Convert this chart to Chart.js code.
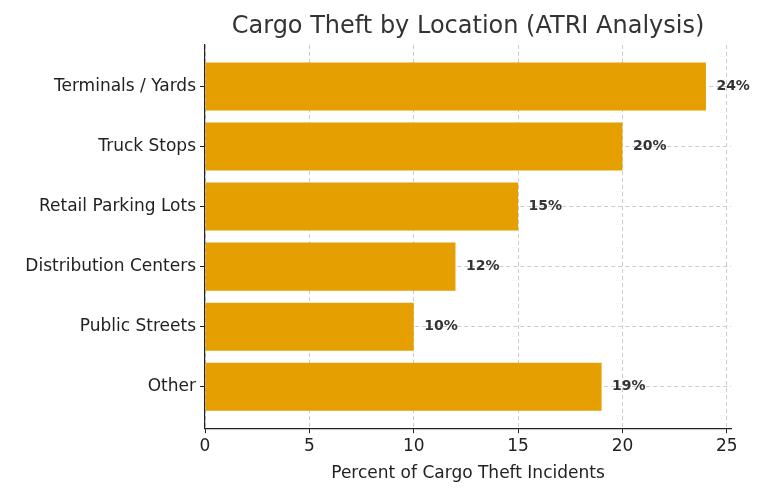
<!DOCTYPE html>
<html><head><meta charset="utf-8">
<script src="https://cdn.jsdelivr.net/npm/chart.js@4"></script>
<style>html,body{margin:0;padding:0;background:#fff}#w{width:768px;height:494px}</style>
</head><body><div id="w"><canvas id="c"></canvas></div>
<script>
const categories = ["Terminals / Yards","Truck Stops","Retail Parking Lots","Distribution Centers","Public Streets","Other"];
const values = [24,20,15,12,10,19];
const xTicks = [0,5,10,15,20,25];
const titleText = 'Cargo Theft by Location (ATRI Analysis)';
const F = "'DejaVu Sans', sans-serif";
const labelPlugin = {id:'lbl', afterDatasetsDraw(chart){
  const {ctx, chartArea, scales:{x,y}} = chart;
  ctx.save(); ctx.font = "bold 14px "+F; ctx.fillStyle="#333"; ctx.textBaseline="middle";
  values.forEach((v,i)=>{ ctx.fillText(v+"%", x.getPixelForValue(v+0.5), y.getPixelForValue(i)); });
  ctx.font = "24px "+F; ctx.fillStyle="#333"; ctx.textAlign="center";
  ctx.fillText(titleText, (chartArea.left+chartArea.right)/2, 27);
  ctx.restore();
}};
new Chart(document.getElementById('c'), {
  type:'bar',
  data:{datasets:[{data: values.map((v,i)=>({x:v,y:i})), backgroundColor:'#E69F00', barPercentage:0.8, categoryPercentage:1}]},
  options:{indexAxis:'y', responsive:true, maintainAspectRatio:false, animation:false,
    layout:{padding:{top:45,right:37,bottom:6,left:0}},
    plugins:{legend:{display:false}, tooltip:{enabled:false}, title:{display:false}},
    scales:{
      x:{type:'linear', min:0, max:25.2, position:'bottom',
        afterBuildTicks(s){ s.ticks = xTicks.map(v=>({value:v})); },
        ticks:{color:'#222', font:{family:F,size:17}, padding:3},
        grid:{color:'#ccc', drawTicks:true, tickColor:'#222', tickLength:5},
        border:{display:true, color:'#222', width:1.2, dash:[4,3]},
        title:{display:true, text:'Percent of Cargo Theft Incidents', color:'#222', font:{family:F,size:17}, padding:{top:4}}},
      y:{type:'linear', reverse:true, min:-0.69, max:5.69, offset:false,
        afterBuildTicks(s){ s.ticks = categories.map((c,i)=>({value:i})); },
        afterFit(s){ s.width = 205; },
        ticks:{color:'#222', font:{family:F,size:17}, callback:(v)=>categories[v], padding:4},
        grid:{color:'#ccc', offset:false, tickColor:'#222', tickLength:5},
        border:{display:true, color:'#222', width:1.2, dash:[4,3]}}
    }},
  plugins:[labelPlugin]
});
</script></body></html>
